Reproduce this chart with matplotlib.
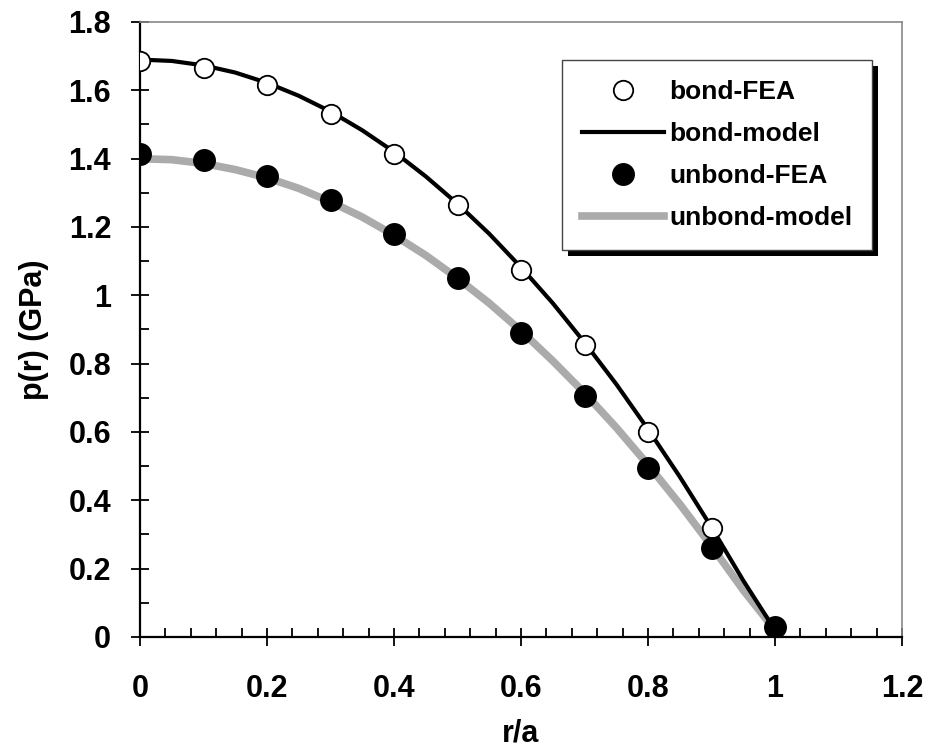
import numpy as np
from matplotlib import pyplot as plt
from matplotlib.patches import Rectangle
from matplotlib.ticker import MultipleLocator, FormatStrFormatter

plt.rcParams['font.family'] = ['Liberation Sans', 'DejaVu Sans']
plt.rcParams['font.weight'] = 'bold'

# FEA points
r_fea = [0, 0.1, 0.2, 0.3, 0.4, 0.5, 0.6, 0.7, 0.8, 0.9, 1.0]
bond_fea = [1.685, 1.665, 1.615, 1.53, 1.415, 1.265, 1.075, 0.855, 0.60, 0.32, 0.03]
unbond_fea = [1.415, 1.395, 1.35, 1.28, 1.18, 1.05, 0.89, 0.705, 0.495, 0.26, 0.03]

# model curves, every 0.05
r_model = [0, 0.05, 0.1, 0.15, 0.2, 0.25, 0.3, 0.35, 0.4, 0.45, 0.5,
           0.55, 0.6, 0.65, 0.7, 0.75, 0.8, 0.85, 0.9, 0.95, 1.0]
bond_model = [1.69, 1.686, 1.673, 1.652, 1.622, 1.584, 1.538, 1.483, 1.420, 1.348, 1.268,
              1.180, 1.082, 0.977, 0.862, 0.740, 0.608, 0.469, 0.321, 0.165, 0.02]
unbond_model = [1.40, 1.397, 1.386, 1.368, 1.344, 1.313, 1.274, 1.229, 1.176, 1.117, 1.050,
                0.977, 0.896, 0.808, 0.714, 0.613, 0.504, 0.389, 0.266, 0.137, 0.02]

fig = plt.figure(figsize=(9.31, 7.48), dpi=100)
ax = fig.add_axes([0.1504, 0.1484, 0.8185, 0.8222])

ax.plot(r_fea, bond_fea, 'o', mfc='white', mec='black', mew=1.3, ms=14,
        label='bond-FEA', zorder=4)
ax.plot(r_model, bond_model, '-', color='black', lw=3.0, label='bond-model', zorder=3)
ax.plot(r_fea, unbond_fea, 'o', mfc='black', mec='black', ms=15.5,
        label='unbond-FEA', zorder=4)
ax.plot(r_model, unbond_model, '-', color='#ababab', lw=5.5, label='unbond-model', zorder=2)

ax.set_xlim(0, 1.2)
ax.set_ylim(0, 1.8)
ax.xaxis.set_major_locator(MultipleLocator(0.2))
ax.xaxis.set_minor_locator(MultipleLocator(0.04))
ax.yaxis.set_major_locator(MultipleLocator(0.2))
ax.yaxis.set_minor_locator(MultipleLocator(0.1))
ax.xaxis.set_major_formatter(FormatStrFormatter('%g'))
ax.yaxis.set_major_formatter(FormatStrFormatter('%g'))

ax.tick_params(which='major', direction='inout', length=13.5, width=1.3,
               labelsize=22, color='black')
ax.tick_params(which='minor', direction='in', length=6.5, width=1.3, color='black')
ax.tick_params(axis='x', which='major', pad=20)
ax.tick_params(axis='y', which='major', pad=14)

for side in ['left', 'bottom']:
    ax.spines[side].set_linewidth(1.6)
    ax.spines[side].set_color('black')
for side in ['top', 'right']:
    ax.spines[side].set_linewidth(1.2)
    ax.spines[side].set_color('#888888')

ax.set_xlabel('r/a', fontsize=22, fontweight='bold', labelpad=10)
ax.set_ylabel('p(r) (GPa)', fontsize=22, fontweight='bold', labelpad=14)

leg = ax.legend(loc='upper left', bbox_to_anchor=(0.554, 0.938), borderaxespad=0,
                frameon=True, fancybox=False, framealpha=1, facecolor='white',
                handlelength=3.1, handletextpad=0.2, labelspacing=0.68,
                borderpad=0.75, prop={'weight': 'bold', 'size': 19})
leg.get_frame().set_edgecolor('#444444')
leg.get_frame().set_linewidth(1.0)
leg.set_zorder(10)

fig.canvas.draw()
bb = leg.get_window_extent().transformed(ax.transAxes.inverted())
dx = 6 / (ax.bbox.width)
dy = 6 / (ax.bbox.height)
shadow = Rectangle((bb.x0 + dx, bb.y0 - dy), bb.width, bb.height,
                   transform=ax.transAxes, facecolor='black', edgecolor='none', zorder=9)
ax.add_patch(shadow)

plt.savefig('out.png', dpi=100)
